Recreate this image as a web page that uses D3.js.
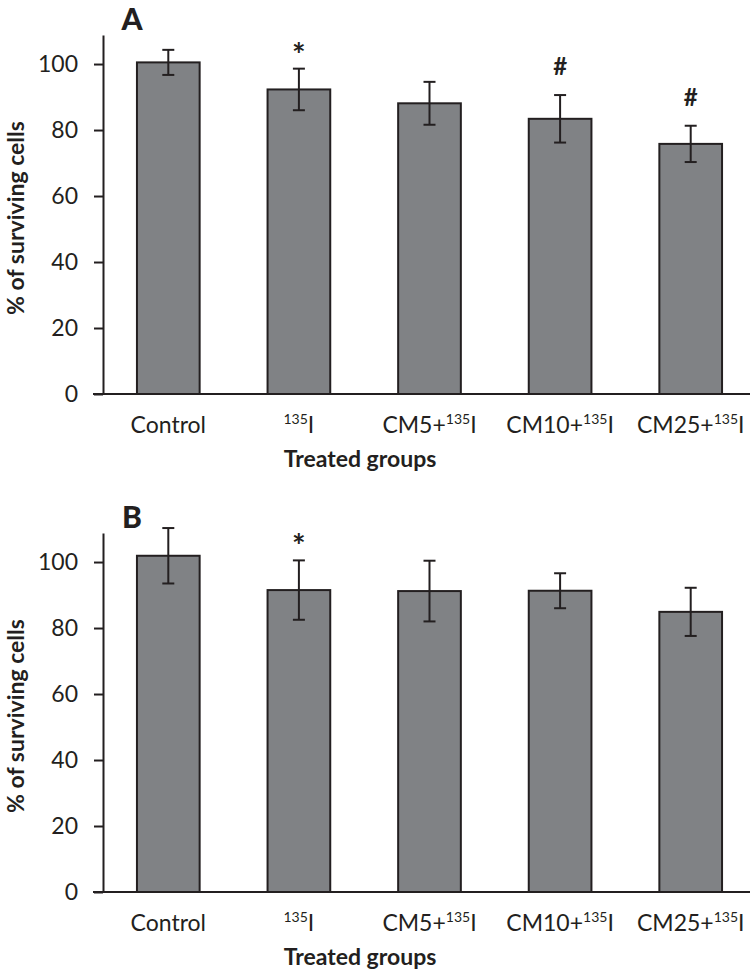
<!DOCTYPE html>
<html>
<head>
<meta charset="utf-8">
<script src="https://cdn.jsdelivr.net/npm/d3@7"></script>
<style>
  body { margin: 0; background: #fff; }
  svg { display: block; font-family: Lato, "Open Sans", sans-serif; }
</style>
</head>
<body>
<div class="chart"></div>
<script>
// groups and values
var categories = ["Control", "135I", "CM5+135I", "CM10+135I", "CM25+135I"];
var yTicks = [0, 20, 40, 60, 80, 100];

var meansA = [100.5, 92.3, 88.1, 83.4, 75.8];
var errA   = [3.8, 6.3, 6.5, 7.2, 5.5];
var marksA = ["", "*", "", "#", "#"];

var meansB = [101.9, 91.5, 91.2, 91.3, 84.9];
var errB   = [8.4, 9.0, 9.2, 5.3, 7.3];
var marksB = ["", "*", "", "", ""];

var w = 750,
    h = 979;
var ink = "#231f20",
    barFill = "#808285";

var svg = d3.select(".chart")
    .append("svg")
    .attr("width", w)
    .attr("height", h);

function panel(letter, means, errs, marks, top) {
    var g = svg.append("g").attr("transform", "translate(0," + top + ")");
    var axisX = 103, axisTop = 35, zeroY = 394;

    var x = d3.scaleBand()
        .domain(categories)
        .range([axisX, 756])
        .paddingInner(0.52)
        .paddingOuter(0.26);

    var y = d3.scaleLinear()
        .domain([0, 108.8])
        .range([zeroY, axisTop]);

    // panel letter
    g.append("text")
        .attr("x", 132)
        .attr("y", 30)
        .attr("text-anchor", "middle")
        .attr("font-size", 30)
        .attr("font-weight", 900)
        .attr("fill", ink)
        .text(letter);

    // y axis
    var yAxis = g.append("g")
        .attr("transform", "translate(" + axisX + ",0)")
        .call(d3.axisLeft(y).tickValues(yTicks).tickSize(9).tickPadding(16).tickSizeOuter(0));
    yAxis.select(".domain").attr("stroke", ink).attr("stroke-width", 2);
    yAxis.selectAll(".tick line").attr("stroke", ink).attr("stroke-width", 2);
    yAxis.selectAll(".tick text")
        .attr("font-size", 23)
        .attr("font-family", "Lato, sans-serif")
        .attr("fill", ink);

    g.append("text")
        .attr("transform", "translate(24,218) rotate(-90)")
        .attr("text-anchor", "middle")
        .attr("font-size", 23)
        .attr("font-weight", 700)
        .attr("fill", ink)
        .text("% of surviving cells");

    // bars
    var rows = categories.map(function (c, i) {
        return { cat: c, mean: means[i], err: errs[i], mark: marks[i] };
    });

    g.selectAll("rect.bar")
        .data(rows)
        .enter().append("rect")
        .attr("class", "bar")
        .attr("x", function (d) { return x(d.cat); })
        .attr("y", function (d) { return y(d.mean); })
        .attr("width", x.bandwidth())
        .attr("height", function (d) { return zeroY - y(d.mean); })
        .attr("fill", barFill)
        .attr("stroke", ink)
        .attr("stroke-width", 2);

    // error bars
    var eb = g.selectAll("g.err")
        .data(rows)
        .enter().append("g")
        .attr("class", "err")
        .attr("stroke", ink)
        .attr("stroke-width", 2);
    var cx = function (d) { return x(d.cat) + x.bandwidth() / 2; };
    eb.append("line")
        .attr("x1", cx).attr("x2", cx)
        .attr("y1", function (d) { return y(d.mean + d.err); })
        .attr("y2", function (d) { return y(d.mean - d.err); });
    eb.append("line")
        .attr("x1", function (d) { return cx(d) - 6; })
        .attr("x2", function (d) { return cx(d) + 6; })
        .attr("y1", function (d) { return y(d.mean + d.err); })
        .attr("y2", function (d) { return y(d.mean + d.err); });
    eb.append("line")
        .attr("x1", function (d) { return cx(d) - 6; })
        .attr("x2", function (d) { return cx(d) + 6; })
        .attr("y1", function (d) { return y(d.mean - d.err); })
        .attr("y2", function (d) { return y(d.mean - d.err); });

    // significance marks
    g.selectAll("text.mark")
        .data(rows.filter(function (d) { return d.mark; }))
        .enter().append("text")
        .attr("class", "mark")
        .attr("x", cx)
        .attr("y", function (d) {
            return y(d.mean + d.err) - (d.mark === "*" ? 2 : 20);
        })
        .attr("text-anchor", "middle")
        .attr("font-size", function (d) { return d.mark === "*" ? 32 : 24; })
        .attr("font-weight", 700)
        .attr("fill", ink)
        .text(function (d) { return d.mark; });

    // x axis baseline
    g.append("line")
        .attr("x1", axisX - 10)
        .attr("x2", w)
        .attr("y1", zeroY)
        .attr("y2", zeroY)
        .attr("stroke", ink)
        .attr("stroke-width", 2);

    // category labels with superscript isotope
    var lab = g.selectAll("text.cat")
        .data(categories)
        .enter().append("text")
        .attr("class", "cat")
        .attr("x", function (d) { return x(d) + x.bandwidth() / 2; })
        .attr("y", 433)
        .attr("text-anchor", "middle")
        .attr("font-size", 23)
        .attr("fill", ink);
    lab.each(function (d) {
        var t = d3.select(this);
        var m = d.match(/^(.*?)135I$/);
        if (!m) { t.text(d); return; }
        if (m[1]) t.append("tspan").text(m[1]);
        t.append("tspan").attr("font-size", 14).attr("dy", -9).text("135");
        t.append("tspan").attr("dy", 9).text("I");
    });

    g.append("text")
        .attr("x", 360)
        .attr("y", 467)
        .attr("text-anchor", "middle")
        .attr("font-size", 23)
        .attr("font-weight", 700)
        .attr("fill", ink)
        .text("Treated groups");
}

panel("A", meansA, errA, marksA, 0);
panel("B", meansB, errB, marksB, 498);
</script>
</body>
</html>
